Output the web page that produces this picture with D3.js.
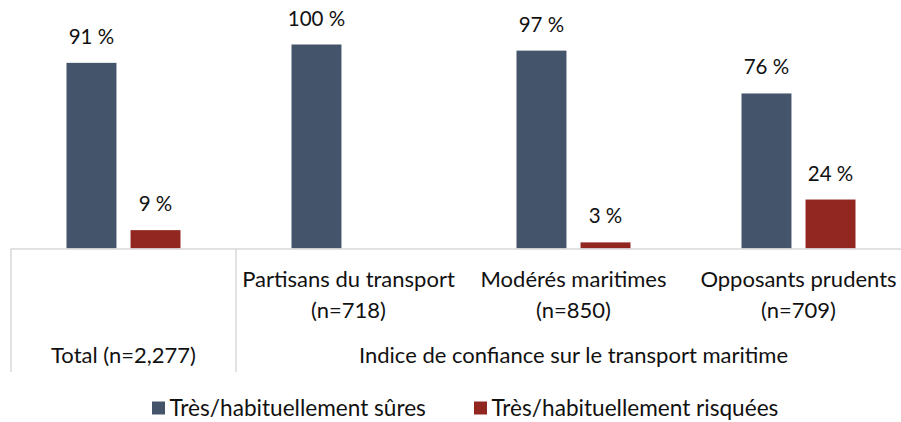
<!DOCTYPE html>
<html><head><meta charset="utf-8">
<script src="https://cdn.jsdelivr.net/npm/d3@7"></script>
<style>body{margin:0;background:#fff}svg{display:block}text{font-family:Lato,"Open Sans",sans-serif;fill:#111}</style>
</head><body><div id="c"></div>
<script>
const categories = ["Total", "Partisans du transport", "Modérés maritimes", "Opposants prudents"];
const catLabels = [["Total (n=2,277)"], ["Partisans du transport", "(n=718)"], ["Modérés maritimes", "(n=850)"], ["Opposants prudents", "(n=709)"]];
const seriesNames = ["Très/habituellement sûres", "Très/habituellement risquées"];
const safeValues = [91, 100, 97, 76];
const riskyValues = [9, 0, 3, 24];
const valueLabels = [["91 %", "100 %", "97 %", "76 %"], ["9 %", "", "3 %", "24 %"]];
const groupTitle = "Indice de confiance sur le transport maritime";
const colors = ["#44546A", "#922722"];

const W = 901, H = 422;
const svg = d3.select("#c").append("svg").attr("width", W).attr("height", H);
const x = d3.scaleBand().domain(categories).range([11, 911]).paddingInner(0).paddingOuter(0);
const xs = d3.scaleBand().domain([0, 1]).range([-7 - 50, 7 + 50]).paddingInner(0.22).paddingOuter(0);
const y = d3.scaleLinear().domain([0, 100]).range([248.5, 44.5]);
const series = [safeValues, riskyValues];
const fsVal = 20.5, fsCat = 22, fsLeg = 22.6;

series.forEach((vals, s) => {
  const g = svg.append("g");
  g.selectAll("rect").data(vals).join("rect")
    .attr("x", (d, i) => x(categories[i]) + x.bandwidth() / 2 + xs(s))
    .attr("width", xs.bandwidth())
    .attr("y", d => y(d))
    .attr("height", d => y(0) - y(d))
    .attr("fill", colors[s]);
  g.selectAll("text").data(vals).join("text")
    .attr("x", (d, i) => x(categories[i]) + x.bandwidth() / 2 + xs(s) + xs.bandwidth() / 2)
    .attr("y", d => y(d) - 19)
    .attr("text-anchor", "middle").attr("font-size", fsVal)
    .text((d, i) => valueLabels[s][i]);
});

// axis lines
const ax = svg.append("g").attr("stroke", "#d9d9d9").attr("stroke-width", 1.5);
ax.append("line").attr("x1", 11).attr("x2", 911).attr("y1", y(0) + 0.5).attr("y2", y(0) + 0.5);
ax.append("line").attr("x1", x(categories[0])).attr("x2", x(categories[0])).attr("y1", y(0)).attr("y2", 372);
ax.append("line").attr("x1", x(categories[1])).attr("x2", x(categories[1])).attr("y1", y(0)).attr("y2", 372);

// category labels
categories.forEach((c, i) => {
  const cx = x(c) + x.bandwidth() / 2;
  const lines = catLabels[i];
  if (i === 0) {
    svg.append("text").attr("x", cx).attr("y", 363).attr("text-anchor", "middle").attr("font-size", fsCat).text(lines[0]);
  } else {
    lines.forEach((t, k) => svg.append("text").attr("x", cx).attr("y", 287 + k * 31).attr("text-anchor", "middle").attr("font-size", fsCat).text(t));
  }
});
svg.append("text").attr("x", (x(categories[1]) + 911) / 2).attr("y", 363).attr("text-anchor", "middle").attr("font-size", fsCat).text(groupTitle);

// legend
const legX = [152, 474];
seriesNames.forEach((n, s) => {
  svg.append("rect").attr("x", legX[s]).attr("y", 401.5).attr("width", 13).attr("height", 13).attr("fill", colors[s]);
  svg.append("text").attr("x", legX[s] + 17.5).attr("y", 416).attr("font-size", fsLeg).text(n);
});
</script></body></html>
